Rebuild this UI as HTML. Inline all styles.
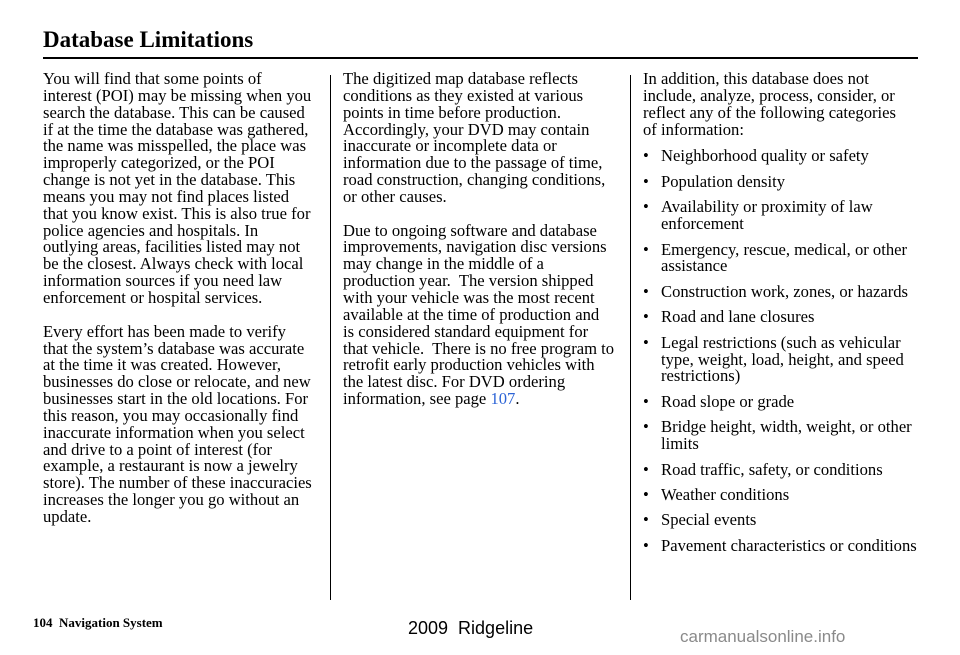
<!DOCTYPE html>
<html><head><meta charset="utf-8"><style>
body{margin:0;width:960px;height:655px;background:#fff;position:relative;overflow:hidden;font-family:"Liberation Serif",serif;color:#000}
.t{position:absolute;left:43px;top:27px;font-size:23px;font-weight:bold;white-space:nowrap}
.rule{position:absolute;left:43px;top:57px;width:875px;height:2px;background:#000}
.col{position:absolute;top:71px;font-size:16.6px;line-height:16.85px;white-space:nowrap}
.vl{position:absolute;top:75px;width:1px;height:525px;background:#000}
.b{position:relative;padding-left:18px;margin-bottom:8.6px}
.b:before{content:"•";position:absolute;left:0}
.f{position:absolute;left:33px;top:615px;font-size:13px;font-weight:bold}
.r{position:absolute;left:408px;top:618px;font-family:"Liberation Sans",sans-serif;font-size:18px}
.w{position:absolute;left:680px;top:627px;font-family:"Liberation Sans",sans-serif;font-size:17px;color:#8a8a8a}
a{color:#2b63d6;text-decoration:none}
</style></head><body>
<div class="t">Database Limitations</div>
<div class="rule"></div>
<div class="col" style="left:43px">You will find that some points of<br>interest (POI) may be missing when you<br>search the database. This can be caused<br>if at the time the database was gathered,<br>the name was misspelled, the place was<br>improperly categorized, or the POI<br>change is not yet in the database. This<br>means you may not find places listed<br>that you know exist. This is also true for<br>police agencies and hospitals. In<br>outlying areas, facilities listed may not<br>be the closest. Always check with local<br>information sources if you need law<br>enforcement or hospital services.<br><br>Every effort has been made to verify<br>that the system’s database was accurate<br>at the time it was created. However,<br>businesses do close or relocate, and new<br>businesses start in the old locations. For<br>this reason, you may occasionally find<br>inaccurate information when you select<br>and drive to a point of interest (for<br>example, a restaurant is now a jewelry<br>store). The number of these inaccuracies<br>increases the longer you go without an<br>update.</div>
<div class="vl" style="left:330px"></div>
<div class="col" style="left:343px">The digitized map database reflects<br>conditions as they existed at various<br>points in time before production.<br>Accordingly, your DVD may contain<br>inaccurate or incomplete data or<br>information due to the passage of time,<br>road construction, changing conditions,<br>or other causes.<br><br>Due to ongoing software and database<br>improvements, navigation disc versions<br>may change in the middle of a<br>production year.&nbsp; The version shipped<br>with your vehicle was the most recent<br>available at the time of production and<br>is considered standard equipment for<br>that vehicle.&nbsp; There is no free program to<br>retrofit early production vehicles with<br>the latest disc. For DVD ordering<br>information, see page <a>107</a>.</div>
<div class="vl" style="left:630px"></div>
<div class="col" style="left:643px">In addition, this database does not<br>include, analyze, process, consider, or<br>reflect any of the following categories<br>of information:
<div style="height:10px"></div>
<div class="b">Neighborhood quality or safety</div>
<div class="b">Population density</div>
<div class="b">Availability or proximity of law<br>enforcement</div>
<div class="b">Emergency, rescue, medical, or other<br>assistance</div>
<div class="b">Construction work, zones, or hazards</div>
<div class="b">Road and lane closures</div>
<div class="b">Legal restrictions (such as vehicular<br>type, weight, load, height, and speed<br>restrictions)</div>
<div class="b">Road slope or grade</div>
<div class="b">Bridge height, width, weight, or other<br>limits</div>
<div class="b">Road traffic, safety, or conditions</div>
<div class="b">Weather conditions</div>
<div class="b">Special events</div>
<div class="b">Pavement characteristics or conditions</div>
</div>
<div class="f">104&nbsp;&nbsp;Navigation System</div>
<div class="r">2009&nbsp; Ridgeline</div>
<div class="w">carmanualsonline.info</div>
</body></html>
